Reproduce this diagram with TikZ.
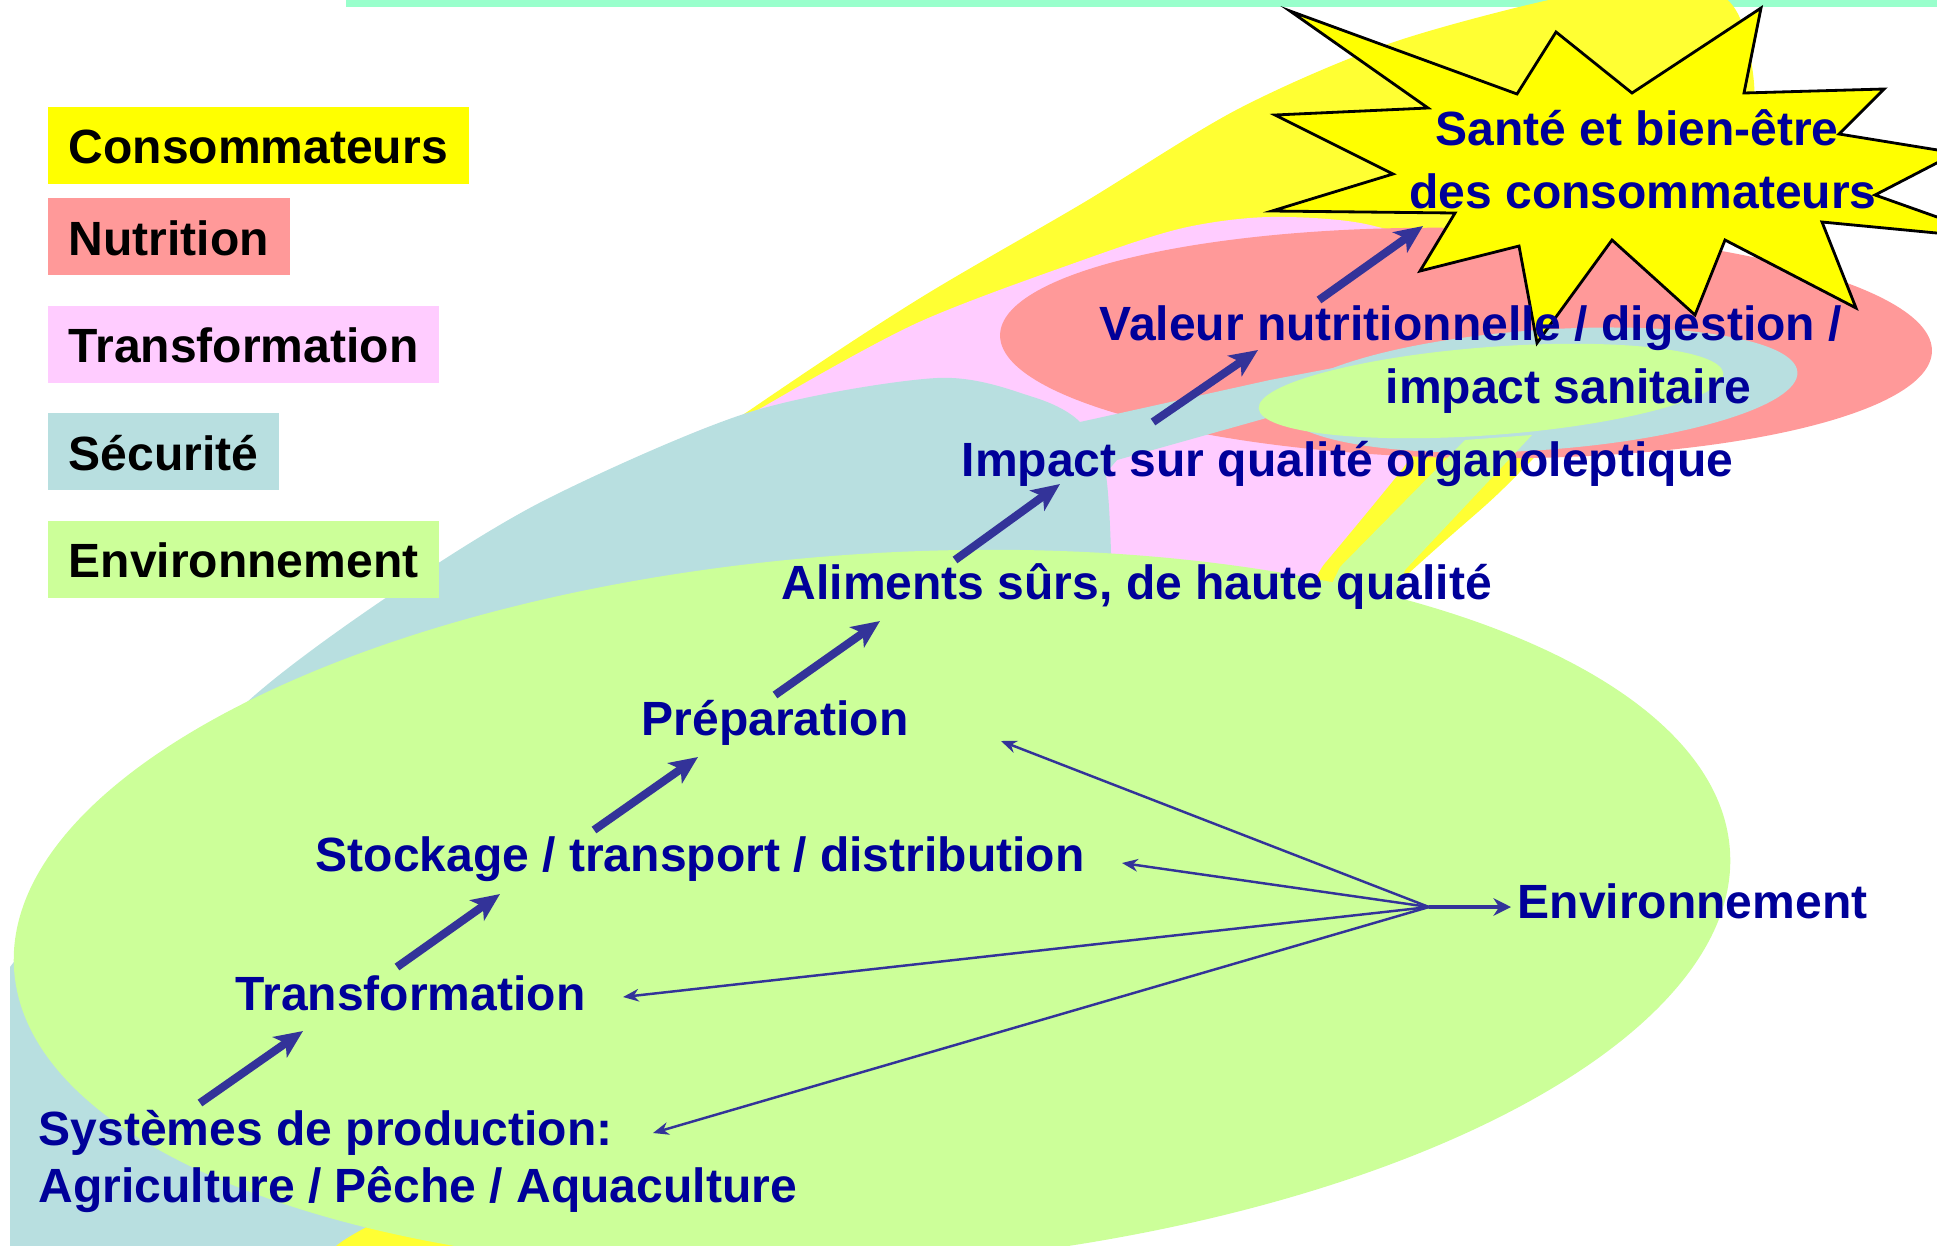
\documentclass[tikz,border=0pt]{standalone}
\usepackage{fontspec}
\setmainfont{Liberation Sans}
\usetikzlibrary{positioning,arrows.meta}

\definecolor{consum}{HTML}{FFFF00}
\definecolor{consumbg}{HTML}{FFFF33}
\definecolor{nutri}{HTML}{FF9999}
\definecolor{transf}{HTML}{FFCCFF}
\definecolor{secur}{HTML}{B8DFE0}
\definecolor{enviro}{HTML}{CCFF99}
\definecolor{mint}{HTML}{99FFCC}
\definecolor{txtblue}{HTML}{000099}
\definecolor{arrblue}{HTML}{333399}

\begin{document}
\begin{tikzpicture}[x=0.01cm,y=-0.01cm,inner sep=0pt,
  every node/.style={font=\fontsize{13.66}{16}\selectfont\bfseries},
  flow/.style={text=txtblue,anchor=base west},
  legend/.style={inner xsep=0.21cm,text height=0.57cm,text depth=0.2cm},
  bigarrow/.style={arrblue,line width=2.3pt,-{Stealth[length=8pt,width=7pt,inset=2pt]}},
  thinarrow/.style={arrblue,line width=0.7pt,-{Stealth[length=4.5pt,width=3.6pt]}}]
\useasboundingbox (0,0) rectangle (1937,1245);
\clip (0,0) rectangle (1937,1245);

\fill[mint] (346,0) rectangle (1937,7);

\fill[consumbg] plot[smooth cycle] coordinates {(400,1320) (120,1180) (420,640) (750,410)
  (917,300) (1083,203) (1240,108) (1400,40) (1600,-10) (1720,-5) (1751,60) (1745,150)
  (1650,330) (1515,477) (1420,563) (1100,850) (700,1150)};
\fill[transf] plot[smooth cycle] coordinates {(680,460) (763,407) (917,323) (1083,260)
  (1183,228) (1270,217) (1370,225) (1470,265) (1490,360) (1420,445) (1396,477)
  (1325,563) (1250,650) (900,620)};
\fill[nutri, rotate around={-1:(1466,343)}] (1466,343) ellipse [x radius=466, y radius=115];

\fill[secur] (10,1300) -- plot[smooth] coordinates {(10,967) (120,830) (255,695) (393,593)
  (545,500) (750,412) (937,378) (1033,397) (1080,422) (1105,470) (1111,553)}
  -- (1000,700) -- (500,1100) -- plot[smooth] coordinates {(420,1200) (337,1245) (300,1300)} -- cycle;
\fill[secur] (1060,440) -- (1080,422) -- (1270,380) -- (1480,340) -- (1500,420) -- (1270,417)
  -- (1117,460) -- (1100,480) -- cycle;
\fill[secur, rotate around={4:(1540,390)}] (1540,390) ellipse [x radius=258, y radius=60];

\fill[enviro, rotate around={4:(872,910)}] (872,910) ellipse [x radius=860, y radius=356];
\fill[enviro] (1300,650) -- (1340,567) -- (1465,440) -- (1532,435) -- (1405,570) -- (1380,650) -- cycle;
\fill[enviro, rotate around={4.3:(1491,391)}] (1491,391) ellipse [x radius=233, y radius=44];

\node[legend,fill=consum,anchor=north west] (cons) at (47,106) {Consommateurs};
\node[legend,fill=nutri,below right=0.13cm and 0cm of cons.south west] (nutr) {Nutrition};
\node[legend,fill=transf,below right=0.29cm and 0cm of nutr.south west] (trans) {Transformation};
\node[legend,fill=secur,below right=0.29cm and 0cm of trans.south west] (secu) {Sécurité};
\node[legend,fill=enviro,below right=0.29cm and 0cm of secu.south west] (envi) {Environnement};

\filldraw[fill=consum,draw=black,line width=0.8pt] (1290,11) -- (1517,94) -- (1556,32) -- (1632,93)
  -- (1761,8) -- (1744,93) -- (1884,89) -- (1839,134) -- (1956,153) -- (1875,195) -- (1999,239)
  -- (1822,222) -- (1856,308) -- (1725,240) -- (1695,315) -- (1612,240) -- (1537,343)
  -- (1519,246) -- (1420,271) -- (1455,213) -- (1272,211) -- (1393,174) -- (1275,115)
  -- (1428,108) -- cycle;

\node[flow,anchor=base] (sante) at (1637,145) {Santé et bien-être};
\node[flow,anchor=base] (sante2) at (1643,208) {des consommateurs};
\node[flow] (valeur) at (1099,340) {Valeur nutritionnelle / digestion /};
\node[flow] (valeur2) at (1385,403) {impact sanitaire};
\node[flow] (orga) at (961,476) {Impact sur qualité organoleptique};
\node[flow] (alim) at (781,599) {Aliments sûrs, de haute qualité};
\node[flow] (prep) at (641,735) {Préparation};
\node[flow] (stock) at (315,871) {Stockage / transport / distribution};
\node[flow] (trans2) at (235,1010) {Transformation};
\node[flow] (sys) at (38,1145) {Systèmes de production:};
\node[flow] (sys2) at (38,1202) {Agriculture / Pêche / Aquaculture};
\node[flow] (env) at (1517,918) {Environnement};

\coordinate (t1) at (200,1103);
\coordinate (h1) at (303,1031);
\coordinate (t2) at (397,967);
\coordinate (h2) at (500,894);
\coordinate (t3) at (594,830);
\coordinate (h3) at (698,757);
\coordinate (t4) at (775,695);
\coordinate (h4) at (880,621);
\coordinate (t5) at (955,560);
\coordinate (h5) at (1060,484);
\coordinate (t6) at (1153,422);
\coordinate (h6) at (1258,350);
\coordinate (t7) at (1319,300);
\coordinate (h7) at (1423,226);
\draw[bigarrow] (t1) -- (h1);
\draw[bigarrow] (t2) -- (h2);
\draw[bigarrow] (t3) -- (h3);
\draw[bigarrow] (t4) -- (h4);
\draw[bigarrow] (t5) -- (h5);
\draw[bigarrow] (t6) -- (h6);
\draw[bigarrow] (t7) -- (h7);

\coordinate (hub) at (1429,907);
\coordinate (envend) at (1511,907);
\coordinate (prepend) at (1001,741);
\coordinate (stockend) at (1122,863);
\coordinate (transend) at (623,997);
\coordinate (sysend) at (653,1133);
\draw[arrblue,line width=1.4pt,-{Stealth[length=5pt,width=5pt]}] (hub) -- (envend);
\draw[thinarrow] (hub) -- (prepend);
\draw[thinarrow] (hub) -- (stockend);
\draw[thinarrow] (hub) -- (transend);
\draw[thinarrow] (hub) -- (sysend);
\end{tikzpicture}
\end{document}
